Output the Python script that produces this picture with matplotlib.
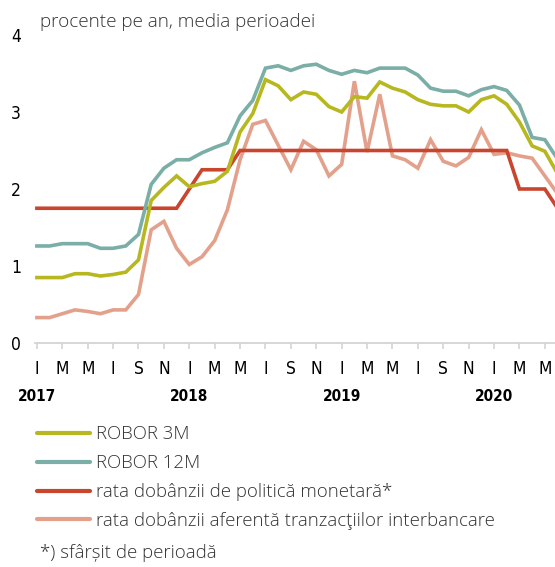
import numpy as np
import matplotlib.pyplot as plt
from matplotlib.lines import Line2D
from matplotlib.font_manager import FontProperties

# luni: ian 2017 ... iun 2020
luni = np.arange(42)
robor_3m = [0.85, 0.85, 0.85, 0.90, 0.90, 0.87, 0.89, 0.92, 1.08, 1.85, 2.02, 2.17,
            2.03, 2.07, 2.10, 2.23, 2.74, 2.98, 3.42, 3.34, 3.16, 3.26, 3.23, 3.07,
            3.00, 3.20, 3.18, 3.39, 3.31, 3.26, 3.16, 3.10, 3.08, 3.08, 3.00, 3.16,
            3.21, 3.10, 2.87, 2.56, 2.49, 2.20]
robor_12m = [1.26, 1.26, 1.29, 1.29, 1.29, 1.23, 1.23, 1.26, 1.41, 2.06, 2.27, 2.38,
             2.38, 2.47, 2.54, 2.60, 2.95, 3.15, 3.57, 3.60, 3.54, 3.60, 3.62, 3.54,
             3.49, 3.54, 3.51, 3.57, 3.57, 3.57, 3.48, 3.31, 3.27, 3.27, 3.21, 3.29,
             3.33, 3.28, 3.09, 2.67, 2.64, 2.39]
politica = [1.75]*12 + [2.00] + [2.25]*3 + [2.50]*22 + [2.00]*3 + [1.75]
interbancar = [0.33, 0.33, 0.38, 0.43, 0.41, 0.38, 0.43, 0.43, 0.63, 1.47, 1.58, 1.23,
               1.02, 1.12, 1.33, 1.73, 2.38, 2.84, 2.89, 2.57, 2.25, 2.62, 2.51, 2.17,
               2.32, 3.40, 2.48, 3.23, 2.43, 2.38, 2.27, 2.64, 2.36, 2.30, 2.41, 2.77,
               2.45, 2.47, 2.43, 2.40, 2.17, 1.94]

etichete_luni = ['I', 'M', 'M', 'I', 'S', 'N']*3 + ['I', 'M', 'M']
ani = ['2017', '2018', '2019', '2020']

c_3m = '#b7b81f'
c_12m = '#7aaea6'
c_pol = '#c9452e'
c_int = '#e3a18c'

fp_axa = FontProperties(family='DejaVu Sans', stretch='condensed', size=12.5)
fp_ani = FontProperties(family='DejaVu Sans', stretch='condensed', weight='bold', size=11)
fp_txt = FontProperties(family='Open Sans', weight='light', size=13.4)

fig = plt.figure(figsize=(5.55, 5.67), dpi=100)
ax = fig.add_axes([35/555, 1-343/567, 1-35/555, (343-35)/567])

lw = 2.6
ax.plot(luni, interbancar, color=c_int, lw=lw, solid_joinstyle='miter')
ax.plot(luni, politica, color=c_pol, lw=lw, solid_joinstyle='miter')
ax.plot(luni, robor_3m, color=c_3m, lw=lw, solid_joinstyle='miter')
ax.plot(luni, robor_12m, color=c_12m, lw=lw, solid_joinstyle='miter')

ax.set_xlim(-0.15, 40.8)
ax.set_ylim(0, 4)
for s in ['top', 'right', 'left']:
    ax.spines[s].set_visible(False)
ax.spines['bottom'].set_color('#d4d4d4')
ax.spines['bottom'].set_linewidth(1.3)

ax.set_xticks(np.arange(0, 41, 2))
ax.set_xticklabels(etichete_luni, fontproperties=fp_axa)
ax.tick_params(axis='x', direction='out', length=4, width=1.2, color='#d4d4d4', pad=8)
ax.set_yticks([0, 1, 2, 3, 4])
ax.set_yticklabels(['0', '1', '2', '3', '4'], fontproperties=fp_axa)
ax.tick_params(axis='y', length=0, pad=10)

for i, an in enumerate(ani):
    ax.text(12*i, -0.175, an, transform=ax.get_xaxis_transform(), ha='center', va='center',
            fontproperties=fp_ani)

fig.text(40/555, 1-22/567, 'procente pe an, media perioadei', fontproperties=fp_txt,
         fontsize=13.6, color='#333333', va='center', ha='left')

handles = [Line2D([], [], color=c, lw=3, solid_capstyle='round')
           for c in [c_3m, c_12m, c_pol, c_int]]
labels = ['ROBOR 3M', 'ROBOR 12M', 'rata dobânzii de politică monetară*',
          'rata dobânzii aferentă tranzacţiilor interbancare']
fig.legend(handles, labels, loc='upper left', bbox_to_anchor=(30/555, 1-418/567),
           frameon=False, handlelength=2.85, handletextpad=0.3, labelspacing=0.58,
           prop=fp_txt, labelcolor='#333333', borderaxespad=0)

fig.text(40/555, 1-553/567, '*) sfârșit de perioadă', fontproperties=fp_txt,
         color='#333333', va='center', ha='left')

fig.savefig('out.png', dpi=100)
